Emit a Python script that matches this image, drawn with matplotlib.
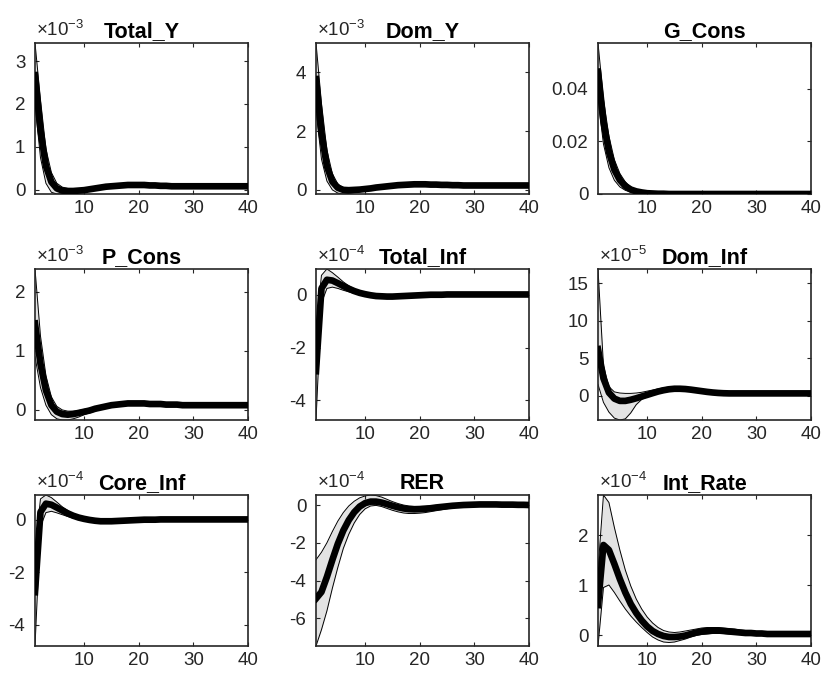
import numpy as np
import matplotlib
matplotlib.use("Agg")
import matplotlib.pyplot as plt
from matplotlib.ticker import FormatStrFormatter

plt.rcParams['font.family'] = ['Liberation Sans', 'DejaVu Sans']
plt.rcParams['mathtext.fontset'] = 'custom'
plt.rcParams['mathtext.rm'] = 'Liberation Sans'
plt.rcParams['mathtext.it'] = 'Liberation Sans'

periods = np.arange(1, 41)

names = ["Total_Y", "Dom_Y", "G_Cons", "P_Cons", "Total_Inf", "Dom_Inf",
         "Core_Inf", "RER", "Int_Rate"]
exponents = [-3, -3, None, -3, -4, -5, -4, -4, -4]
yticks = [[0, 1, 2, 3], [0, 2, 4], [0, 0.02, 0.04], [0, 1, 2], [-4, -2, 0],
          [0, 5, 10, 15], [-4, -2, 0], [-6, -4, -2, 0], [0, 1, 2]]

# ---- Total_Y (x1e-3)
total_y_mean = [2.67, 1.40, 0.55, 0.18, 0.03, -0.02, -0.03, -0.03, -0.02, -0.01,
                0.01, 0.03, 0.05, 0.07, 0.08, 0.09, 0.10, 0.11, 0.11, 0.11,
                0.11, 0.10, 0.10, 0.09, 0.09, 0.08, 0.08, 0.08, 0.08, 0.08,
                0.08, 0.08, 0.08, 0.08, 0.08, 0.08, 0.08, 0.08, 0.08, 0.08]
total_y_up = [3.42, 2.10, 0.95, 0.40, 0.15, 0.06, 0.03, 0.02, 0.02, 0.03,
              0.04, 0.06, 0.08, 0.10, 0.11, 0.12, 0.13, 0.14, 0.14, 0.14,
              0.14, 0.13, 0.13, 0.12, 0.12, 0.11, 0.11, 0.11, 0.10, 0.10,
              0.10, 0.10, 0.10, 0.10, 0.10, 0.10, 0.10, 0.10, 0.10, 0.10]
total_y_lo = [2.00, 0.75, 0.15, -0.06, -0.10, -0.09, -0.08, -0.07, -0.06, -0.04,
              -0.02, 0.00, 0.02, 0.04, 0.05, 0.06, 0.07, 0.08, 0.08, 0.08,
              0.08, 0.07, 0.07, 0.07, 0.06, 0.06, 0.06, 0.06, 0.06, 0.06,
              0.06, 0.06, 0.06, 0.06, 0.06, 0.06, 0.06, 0.06, 0.06, 0.06]

# ---- Dom_Y (x1e-3)
dom_y_mean = [3.77, 1.95, 0.80, 0.28, 0.07, 0.00, -0.01, 0.00, 0.01, 0.03,
              0.05, 0.08, 0.10, 0.12, 0.14, 0.16, 0.17, 0.18, 0.19, 0.19,
              0.19, 0.18, 0.18, 0.17, 0.17, 0.16, 0.16, 0.15, 0.15, 0.15,
              0.15, 0.15, 0.15, 0.15, 0.15, 0.15, 0.15, 0.15, 0.15, 0.15]
dom_y_up = [5.00, 2.95, 1.35, 0.55, 0.20, 0.08, 0.05, 0.05, 0.06, 0.08,
            0.10, 0.12, 0.15, 0.17, 0.19, 0.21, 0.22, 0.23, 0.24, 0.24,
            0.24, 0.23, 0.23, 0.22, 0.22, 0.21, 0.21, 0.20, 0.20, 0.20,
            0.20, 0.20, 0.20, 0.20, 0.20, 0.20, 0.20, 0.20, 0.20, 0.20]
dom_y_lo = [2.70, 1.05, 0.30, 0.00, -0.11, -0.14, -0.12, -0.09, -0.06, -0.03,
            0.00, 0.03, 0.06, 0.08, 0.10, 0.11, 0.12, 0.13, 0.14, 0.14,
            0.14, 0.13, 0.13, 0.12, 0.12, 0.11, 0.11, 0.11, 0.10, 0.10,
            0.10, 0.10, 0.10, 0.10, 0.10, 0.10, 0.10, 0.10, 0.10, 0.10]

# ---- G_Cons
g_cons_mean = [0.0465, 0.0275, 0.0160, 0.0092, 0.0053, 0.0030, 0.0017, 0.0010, 0.0006, 0.0003,
               0.0002, 0.0001, 0.0001, 0.0, 0.0, 0.0, 0.0, 0.0, 0.0, 0.0,
               0.0, 0.0, 0.0, 0.0, 0.0, 0.0, 0.0, 0.0, 0.0, 0.0,
               0.0, 0.0, 0.0, 0.0, 0.0, 0.0, 0.0, 0.0, 0.0, 0.0]
g_cons_up = [0.0574, 0.0360, 0.0220, 0.0130, 0.0078, 0.0046, 0.0027, 0.0016, 0.0010, 0.0006,
             0.0004, 0.0002, 0.0001, 0.0001, 0.0, 0.0, 0.0, 0.0, 0.0, 0.0,
             0.0, 0.0, 0.0, 0.0, 0.0, 0.0, 0.0, 0.0, 0.0, 0.0,
             0.0, 0.0, 0.0, 0.0, 0.0, 0.0, 0.0, 0.0, 0.0, 0.0]
g_cons_lo = [0.0360, 0.0190, 0.0100, 0.0052, 0.0027, 0.0014, 0.0007, 0.0004, 0.0002, 0.0001,
             0.0, 0.0, 0.0, 0.0, 0.0, 0.0, 0.0, 0.0, 0.0, 0.0,
             0.0, 0.0, 0.0, 0.0, 0.0, 0.0, 0.0, 0.0, 0.0, 0.0,
             0.0, 0.0, 0.0, 0.0, 0.0, 0.0, 0.0, 0.0, 0.0, 0.0]

# ---- P_Cons (x1e-3)
p_cons_mean = [1.46, 0.78, 0.33, 0.08, -0.03, -0.07, -0.08, -0.07, -0.05, -0.03,
               -0.01, 0.02, 0.04, 0.06, 0.08, 0.09, 0.10, 0.11, 0.11, 0.11,
               0.11, 0.10, 0.10, 0.10, 0.09, 0.09, 0.09, 0.08, 0.08, 0.08,
               0.08, 0.08, 0.08, 0.08, 0.08, 0.08, 0.08, 0.08, 0.08, 0.08]
p_cons_up = [2.38, 1.25, 0.58, 0.22, 0.06, 0.00, -0.02, -0.02, -0.01, 0.01,
             0.03, 0.05, 0.07, 0.09, 0.10, 0.11, 0.12, 0.13, 0.13, 0.13,
             0.13, 0.12, 0.12, 0.12, 0.11, 0.11, 0.11, 0.10, 0.10, 0.10,
             0.10, 0.10, 0.10, 0.10, 0.10, 0.10, 0.10, 0.10, 0.10, 0.10]
p_cons_lo = [0.90, 0.38, 0.08, -0.08, -0.15, -0.17, -0.17, -0.15, -0.12, -0.08,
             -0.05, -0.02, 0.01, 0.03, 0.05, 0.07, 0.08, 0.09, 0.09, 0.09,
             0.09, 0.08, 0.08, 0.08, 0.07, 0.07, 0.07, 0.06, 0.06, 0.06,
             0.06, 0.06, 0.06, 0.06, 0.06, 0.06, 0.06, 0.06, 0.06, 0.06]

# ---- Total_Inf (x1e-4)
total_inf_mean = [-2.90, 0.25, 0.58, 0.55, 0.45, 0.34, 0.24, 0.15, 0.08, 0.03,
                  -0.01, -0.04, -0.05, -0.06, -0.06, -0.05, -0.04, -0.03, -0.02, -0.01,
                  0.00, 0.01, 0.01, 0.01, 0.02, 0.02, 0.02, 0.02, 0.02, 0.02,
                  0.02, 0.02, 0.02, 0.02, 0.02, 0.02, 0.02, 0.02, 0.02, 0.02]
total_inf_up = [-1.30, 0.75, 0.99, 0.85, 0.68, 0.50, 0.35, 0.23, 0.14, 0.07,
                0.02, -0.01, -0.02, -0.03, -0.03, -0.02, -0.01, 0.00, 0.01, 0.02,
                0.03, 0.03, 0.03, 0.03, 0.04, 0.04, 0.04, 0.04, 0.04, 0.04,
                0.04, 0.04, 0.04, 0.04, 0.04, 0.04, 0.04, 0.04, 0.04, 0.04]
total_inf_lo = [-4.76, -0.30, 0.25, 0.30, 0.25, 0.18, 0.12, 0.06, 0.02, -0.02,
                -0.05, -0.07, -0.08, -0.09, -0.09, -0.08, -0.07, -0.05, -0.04, -0.03,
                -0.02, -0.01, -0.01, 0.00, 0.00, 0.00, 0.00, 0.00, 0.00, 0.00,
                0.00, 0.00, 0.00, 0.00, 0.00, 0.00, 0.00, 0.00, 0.00, 0.00]

# ---- Dom_Inf (x1e-5)
dom_inf_mean = [6.2, 2.3, 0.4, -0.4, -0.7, -0.7, -0.55, -0.35, -0.12, 0.10,
                0.33, 0.55, 0.72, 0.85, 0.92, 0.92, 0.88, 0.80, 0.70, 0.60,
                0.50, 0.42, 0.36, 0.32, 0.30, 0.30, 0.30, 0.30, 0.30, 0.30,
                0.30, 0.30, 0.30, 0.30, 0.30, 0.30, 0.30, 0.30, 0.30, 0.30]
dom_inf_up = [16.9, 4.0, 1.2, 0.5, 0.35, 0.30, 0.30, 0.35, 0.45, 0.60,
              0.75, 0.90, 1.05, 1.15, 1.20, 1.20, 1.15, 1.05, 0.95, 0.85,
              0.75, 0.65, 0.58, 0.52, 0.50, 0.48, 0.48, 0.48, 0.48, 0.48,
              0.48, 0.48, 0.48, 0.48, 0.48, 0.48, 0.48, 0.48, 0.48, 0.48]
dom_inf_lo = [1.5, -0.9, -2.2, -3.0, -3.25, -3.1, -2.3, -1.2, -0.5, -0.15,
              0.10, 0.32, 0.50, 0.62, 0.68, 0.68, 0.65, 0.58, 0.50, 0.42,
              0.34, 0.26, 0.20, 0.16, 0.14, 0.14, 0.14, 0.14, 0.14, 0.14,
              0.14, 0.14, 0.14, 0.14, 0.14, 0.14, 0.14, 0.14, 0.14, 0.14]

# ---- Core_Inf (x1e-4)
core_inf_mean = [-2.75, 0.30, 0.62, 0.58, 0.47, 0.36, 0.25, 0.16, 0.09, 0.04,
                 0.00, -0.03, -0.05, -0.05, -0.05, -0.04, -0.03, -0.02, -0.01, 0.00,
                 0.01, 0.01, 0.01, 0.02, 0.02, 0.02, 0.02, 0.02, 0.02, 0.02,
                 0.02, 0.02, 0.02, 0.02, 0.02, 0.02, 0.02, 0.02, 0.02, 0.02]
core_inf_up = [-1.20, 0.80, 0.95, 0.85, 0.68, 0.50, 0.36, 0.24, 0.15, 0.08,
               0.03, 0.00, -0.02, -0.02, -0.02, -0.01, 0.00, 0.01, 0.02, 0.02,
               0.03, 0.03, 0.03, 0.04, 0.04, 0.04, 0.04, 0.04, 0.04, 0.04,
               0.04, 0.04, 0.04, 0.04, 0.04, 0.04, 0.04, 0.04, 0.04, 0.04]
core_inf_lo = [-4.80, -0.25, 0.28, 0.33, 0.27, 0.20, 0.13, 0.07, 0.03, -0.01,
               -0.04, -0.06, -0.08, -0.08, -0.08, -0.07, -0.06, -0.05, -0.04, -0.03,
               -0.02, -0.01, -0.01, 0.00, 0.00, 0.00, 0.00, 0.00, 0.00, 0.00,
               0.00, 0.00, 0.00, 0.00, 0.00, 0.00, 0.00, 0.00, 0.00, 0.00]

# ---- RER (x1e-4)
rer_mean = [-4.95, -4.60, -3.80, -2.90, -2.05, -1.35, -0.80, -0.38, -0.08, 0.10,
            0.18, 0.18, 0.13, 0.05, -0.04, -0.12, -0.18, -0.22, -0.23, -0.22,
            -0.20, -0.17, -0.13, -0.10, -0.07, -0.04, -0.02, 0.00, 0.01, 0.02,
            0.03, 0.03, 0.03, 0.03, 0.02, 0.02, 0.02, 0.01, 0.01, 0.00]
rer_up = [-2.90, -2.50, -2.00, -1.40, -0.85, -0.40, -0.05, 0.20, 0.38, 0.48,
          0.53, 0.50, 0.42, 0.30, 0.18, 0.08, 0.00, -0.05, -0.07, -0.07,
          -0.06, -0.04, -0.02, 0.00, 0.02, 0.04, 0.05, 0.06, 0.07, 0.07,
          0.08, 0.08, 0.08, 0.07, 0.07, 0.06, 0.06, 0.05, 0.05, 0.05]
rer_lo = [-7.46, -6.60, -5.60, -4.40, -3.30, -2.30, -1.55, -0.95, -0.50, -0.20,
          -0.05, -0.02, -0.08, -0.18, -0.28, -0.36, -0.42, -0.45, -0.45, -0.43,
          -0.40, -0.35, -0.30, -0.25, -0.20, -0.15, -0.11, -0.08, -0.05, -0.03,
          -0.02, -0.01, -0.01, -0.01, -0.02, -0.02, -0.03, -0.03, -0.04, -0.04]

# ---- Int_Rate (x1e-4)
int_rate_mean = [0.60, 1.80, 1.70, 1.42, 1.12, 0.85, 0.62, 0.44, 0.29, 0.17,
                 0.08, 0.02, -0.02, -0.04, -0.04, -0.03, -0.01, 0.02, 0.05, 0.07,
                 0.08, 0.09, 0.09, 0.08, 0.07, 0.06, 0.05, 0.04, 0.04, 0.03,
                 0.03, 0.02, 0.02, 0.02, 0.02, 0.02, 0.02, 0.02, 0.02, 0.02]
int_rate_up = [1.30, 2.80, 2.65, 2.15, 1.70, 1.30, 0.98, 0.72, 0.52, 0.36,
               0.24, 0.15, 0.09, 0.06, 0.05, 0.06, 0.08, 0.10, 0.12, 0.14,
               0.15, 0.15, 0.15, 0.14, 0.13, 0.12, 0.10, 0.09, 0.08, 0.07,
               0.06, 0.05, 0.05, 0.04, 0.04, 0.04, 0.04, 0.04, 0.04, 0.04]
int_rate_lo = [-0.22, 0.95, 1.00, 0.85, 0.68, 0.52, 0.38, 0.26, 0.15, 0.05,
               -0.04, -0.10, -0.14, -0.15, -0.14, -0.11, -0.08, -0.04, -0.01, 0.01,
               0.02, 0.03, 0.03, 0.03, 0.02, 0.02, 0.01, 0.01, 0.01, 0.00,
               0.00, 0.00, 0.00, 0.00, 0.00, 0.00, 0.00, 0.00, 0.00, 0.00]

means = [total_y_mean, dom_y_mean, g_cons_mean, p_cons_mean, total_inf_mean,
         dom_inf_mean, core_inf_mean, rer_mean, int_rate_mean]
uppers = [total_y_up, dom_y_up, g_cons_up, p_cons_up, total_inf_up,
          dom_inf_up, core_inf_up, rer_up, int_rate_up]
lowers = [total_y_lo, dom_y_lo, g_cons_lo, p_cons_lo, total_inf_lo,
          dom_inf_lo, core_inf_lo, rer_lo, int_rate_lo]

W, H = 823, 675
fig = plt.figure(figsize=(W / 100, H / 100), dpi=100)

col_left = [35, 316, 598]
row_top = [43, 269, 495]
aw, ah = 213, 151
txt = '#262626'

for i, name in enumerate(names):
    r, c = divmod(i, 3)
    ax = fig.add_axes([col_left[c] / W, 1 - (row_top[r] + ah) / H, aw / W, ah / H])
    m = np.array(means[i])
    up = np.array(uppers[i])
    lo = np.array(lowers[i])

    ax.fill_between(periods, lo, up, color='#e3e3e3', lw=0, zorder=1)
    ax.plot(periods, up, color='black', lw=0.7, zorder=2)
    ax.plot(periods, lo, color='black', lw=0.7, zorder=2)
    ax.plot(periods, m, color='black', lw=4.8, zorder=3, solid_joinstyle='round')

    ax.set_xlim(1, 40)
    ax.set_ylim(lo.min(), up.max())
    ax.set_xticks([10, 20, 30, 40])
    ax.set_yticks(yticks[i])
    ax.yaxis.set_major_formatter(FormatStrFormatter('%g'))
    ax.tick_params(direction='in', top=True, right=True, length=3, width=0.8,
                   labelsize=13.5, colors=txt)
    ax.tick_params(axis='x', pad=4)
    ax.tick_params(axis='y', pad=7)
    for s in ax.spines.values():
        s.set_color(txt)
        s.set_linewidth(1.2)

    ax.set_title(name, fontsize=15.5, fontweight='bold', color='black', pad=4)
    if exponents[i] is not None:
        ax.annotate(r'$\times\mathregular{10^{%d}}$' % exponents[i], xy=(0, 1),
                    xycoords='axes fraction', xytext=(1, 2), textcoords='offset points',
                    ha='left', va='bottom', fontsize=13.5, color=txt)

fig.savefig('out.png', dpi=100)
